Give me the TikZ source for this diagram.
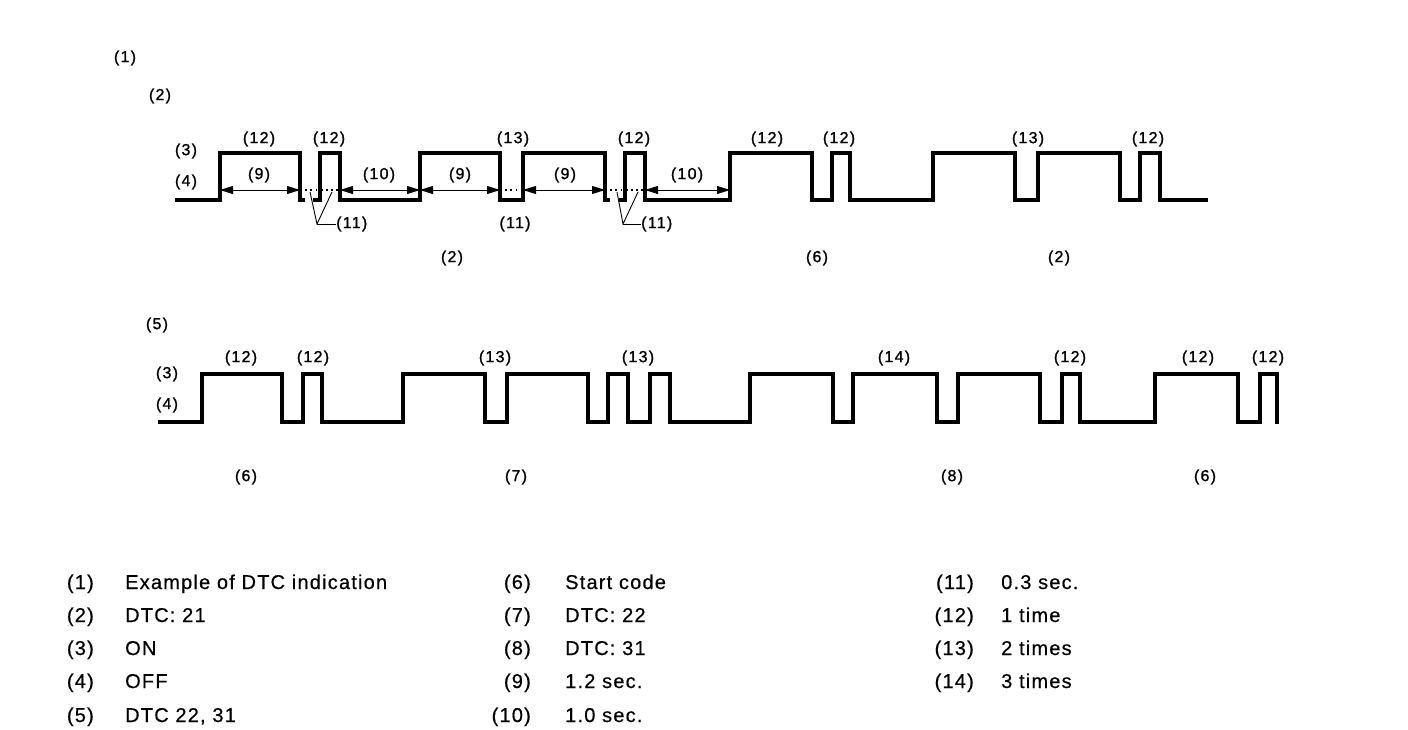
\documentclass[tikz,border=0pt]{standalone}
\usepackage{fontspec}
\setmainfont{Liberation Sans}
\newfontfamily\lblfont[LetterSpace=8,FakeBold=1.2]{Liberation Sans}
\newfontfamily\legfont[LetterSpace=6,FakeBold=0.5]{Liberation Sans}
\usetikzlibrary{arrows.meta}
\begin{document}
\begin{tikzpicture}[x=1pt,y=-1pt,
  wave/.style={line width=3.6pt,line join=miter,line cap=butt},
  dim/.style={line width=0.9pt,{Triangle[length=13pt,width=8pt]}-{Triangle[length=13pt,width=8pt]}},
  dots/.style={line width=1.8pt,dash pattern=on 1.8pt off 3.4pt},
  leader/.style={line width=0.9pt},
  lbl/.style={inner sep=0pt,font=\lblfont\fontsize{16}{18}\selectfont},
  legn/.style={inner sep=0pt,anchor=base east,font=\legfont\fontsize{20}{24}\selectfont},
  legt/.style={inner sep=0pt,anchor=base west,font=\legfont\fontsize{20}{24}\selectfont}]
\useasboundingbox (0,0) rectangle (1408,730);
% ---------- top labels ----------
\node[lbl] (t1) at (125,58) {(1)};
\node[lbl] (t2) at (160,96) {(2)};
\node[lbl] (t3) at (186,151) {(3)};
\node[lbl] (t4) at (186,182) {(4)};
% ---------- top waveform ----------
\draw[wave] (175,200) -- (220,200) -- (220,153) -- (300,153) -- (300,200) -- (305,200);
\draw[wave] (313,200) -- (320,200) -- (320,153) -- (340,153) -- (340,200) -- (420,200)
  -- (420,153) -- (500,153) -- (500,200) -- (523,200) -- (523,153) -- (605,153) -- (605,200) -- (610,200);
\draw[wave] (619,200) -- (625,200) -- (625,153) -- (645,153) -- (645,200) -- (730,200)
  -- (730,153) -- (812,153) -- (812,200) -- (832,200) -- (832,153) -- (850,153) -- (850,200)
  -- (933,200) -- (933,153) -- (1015,153) -- (1015,200) -- (1038,200) -- (1038,153)
  -- (1120,153) -- (1120,200) -- (1140,200) -- (1140,153) -- (1160,153) -- (1160,200) -- (1208,200);
% dimension coordinates
\coordinate (d1) at (220,190); \coordinate (d2) at (300,190);
\coordinate (d3) at (340,190); \coordinate (d4) at (420,190);
\coordinate (d5) at (500,190); \coordinate (d6) at (523,190);
\coordinate (d7) at (605,190); \coordinate (d8) at (645,190);
\coordinate (d9) at (730,190);
\draw[dim] (d1) -- (d2);
\draw[dim] (d3) -- (d4);
\draw[dim] (d4) -- (d5);
\draw[dim] (d6) -- (d7);
\draw[dim] (d8) -- (d9);
\draw[dots] (d2) -- (d3);
\draw[dots] (d5) -- (d6);
\draw[dots] (d7) -- (d8);
\node[lbl] (n9a) at (259,175) {(9)};
\node[lbl] (n10a) at (379,175) {(10)};
\node[lbl] (n9b) at (460,175) {(9)};
\node[lbl] (n9c) at (565,175) {(9)};
\node[lbl] (n10b) at (687,175) {(10)};
% (11) leaders
\coordinate (la1) at (310,192); \coordinate (la2) at (332,192);
\coordinate (lam) at (317,224); \coordinate (lae) at (336,224);
\draw[leader] (la1) -- (lam) -- (la2);
\draw[leader] (lam) -- (lae);
\node[lbl,anchor=west] (n11a) at (lae) {(11)};
\node[lbl] (n11b) at (515,224) {(11)};
\coordinate (lb1) at (617,192); \coordinate (lb2) at (638,192);
\coordinate (lbm) at (623,224); \coordinate (lbe) at (641,224);
\draw[leader] (lb1) -- (lbm) -- (lb2);
\draw[leader] (lbm) -- (lbe);
\node[lbl,anchor=west] (n11c) at (lbe) {(11)};
% pulse labels top
\node[lbl] at (259,139) {(12)};
\node[lbl] at (329,139) {(12)};
\node[lbl] at (513,139) {(13)};
\node[lbl] at (634,139) {(12)};
\node[lbl] at (767,139) {(12)};
\node[lbl] at (839,139) {(12)};
\node[lbl] at (1028,139) {(13)};
\node[lbl] at (1148,139) {(12)};
\node[lbl] at (452,258) {(2)};
\node[lbl] at (817,258) {(6)};
\node[lbl] at (1059,258) {(2)};
% ---------- bottom waveform ----------
\node[lbl] at (157,325) {(5)};
\node[lbl] at (167,374) {(3)};
\node[lbl] at (167,405) {(4)};
\draw[wave] (158,422) -- (202,422) -- (202,374) -- (282,374) -- (282,422) -- (303,422) -- (303,374)
  -- (322,374) -- (322,422) -- (403,422) -- (403,374) -- (485,374) -- (485,422) -- (507,422)
  -- (507,374) -- (588,374) -- (588,422) -- (608,422) -- (608,374) -- (628,374) -- (628,422)
  -- (650,422) -- (650,374) -- (670,374) -- (670,422) -- (750,422) -- (750,374) -- (833,374)
  -- (833,422) -- (853,422) -- (853,374) -- (937,374) -- (937,422) -- (958,422) -- (958,374)
  -- (1040,374) -- (1040,422) -- (1062,422) -- (1062,374) -- (1080,374) -- (1080,422)
  -- (1155,422) -- (1155,374) -- (1238,374) -- (1238,422) -- (1260,422) -- (1260,374)
  -- (1277,374) -- (1277,423.8);
\node[lbl] at (241,358) {(12)};
\node[lbl] at (313,358) {(12)};
\node[lbl] at (495,358) {(13)};
\node[lbl] at (638,358) {(13)};
\node[lbl] at (894,358) {(14)};
\node[lbl] at (1070,358) {(12)};
\node[lbl] at (1198,358) {(12)};
\node[lbl] at (1268,358) {(12)};
\node[lbl] at (246,477) {(6)};
\node[lbl] at (516,477) {(7)};
\node[lbl] at (952,477) {(8)};
\node[lbl] at (1205,477) {(6)};
% ---------- legend ----------
\foreach \n/\t/\y in {(1)/Example of DTC indication/589, (2)/DTC: 21/622, (3)/ON/655, (4)/OFF/688, (5)/{DTC 22, 31}/722}{
  \node[legn] at (94,\y) {\n};
  \node[legt] at (125,\y) {\t};
}
\foreach \n/\t/\y in {(6)/Start code/589, (7)/DTC: 22/622, (8)/DTC: 31/655, (9)/1.2 sec./688, (10)/1.0 sec./722}{
  \node[legn] at (531,\y) {\n};
  \node[legt] at (565,\y) {\t};
}
\foreach \n/\t/\y in {(11)/0.3 sec./589, (12)/1 time/622, (13)/2 times/655, (14)/3 times/688}{
  \node[legn] at (974,\y) {\n};
  \node[legt] at (1001,\y) {\t};
}
\end{tikzpicture}
\end{document}
